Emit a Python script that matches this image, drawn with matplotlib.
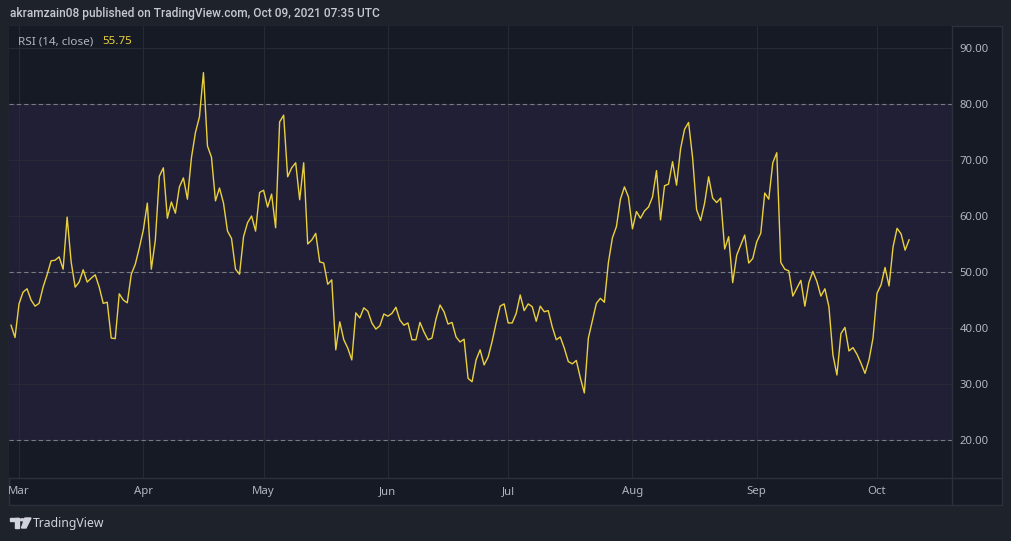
import matplotlib
matplotlib.use("Agg")
import matplotlib.pyplot as plt
import matplotlib.dates as mdates
import pandas as pd
from matplotlib.patches import Rectangle, Polygon, Circle

# daily RSI(14) values, 2021-02-27 .. 2021-10-09
start_date = "2021-02-27"
rsi_values = [
    40.5, 38.3, 44.3, 46.4, 47.0, 45.0, 43.9, 44.4, 47.3, 49.5,
    52.0, 52.1, 52.7, 50.5, 59.8, 51.8, 47.3, 48.2, 50.4, 48.2,
    48.9, 49.5, 47.3, 44.4, 44.6, 38.2, 38.1, 46.1, 45.0, 44.5,
    49.6, 51.4, 54.3, 57.5, 62.3, 50.5, 55.7, 67.1, 68.6, 59.6,
    62.5, 60.5, 65.2, 66.8, 63.0, 70.4, 74.9, 77.7, 85.6, 72.5,
    70.5, 62.7, 65.0, 62.3, 57.3, 56.0, 50.5, 49.6, 56.3, 58.8,
    60.0, 57.3, 64.2, 64.6, 61.6, 63.9, 57.9, 76.8, 78.0, 67.0,
    68.6, 69.5, 62.9, 69.5, 55.0, 55.7, 56.9, 51.8, 51.6, 47.8,
    48.6, 36.1, 41.1, 37.9, 36.4, 34.3, 42.7, 41.8, 43.6, 43.0,
    40.9, 39.8, 40.4, 42.5, 42.1, 42.6, 43.7, 41.4, 40.5, 40.9,
    37.9, 37.9, 41.0, 39.3, 37.9, 38.2, 41.6, 44.1, 42.9, 40.7,
    41.0, 38.4, 37.5, 38.0, 31.0, 30.4, 34.3, 36.1, 33.4, 34.8,
    37.6, 40.9, 43.9, 44.3, 40.9, 40.9, 42.6, 45.9, 43.1, 44.3,
    43.8, 41.2, 43.9, 42.9, 43.1, 40.2, 37.9, 38.4, 36.4, 34.0,
    33.6, 34.2, 31.1, 28.4, 38.2, 41.3, 44.4, 45.3, 44.6, 51.7,
    56.1, 58.1, 63.0, 65.2, 63.4, 57.7, 60.8, 59.6, 60.9, 61.6,
    63.4, 68.1, 59.3, 65.4, 65.7, 69.7, 65.5, 72.0, 75.5, 76.7,
    70.4, 61.1, 59.2, 62.3, 67.0, 63.2, 62.4, 63.2, 54.1, 56.3,
    48.1, 53.0, 54.8, 56.6, 51.6, 52.4, 55.4, 56.9, 64.1, 63.0,
    69.5, 71.3, 51.7, 50.5, 50.2, 45.7, 47.1, 48.5, 43.9, 48.1,
    50.1, 48.3, 45.7, 47.0, 43.8, 35.2, 31.6, 39.0, 40.1, 35.9,
    36.5, 35.3, 33.7, 31.9, 34.3, 38.2, 46.2, 47.7, 50.8, 47.5,
    54.5, 57.8, 56.8, 53.9, 55.75,
]
y_ticks = [20, 30, 40, 50, 60, 70, 80, 90]
band_levels = [20, 50, 80]
header_text = "akramzain08 published on TradingView.com, Oct 09, 2021 07:35 UTC"
indicator_label = "RSI (14, close)"
last_label = "55.75"
brand_text = "TradingView"

W, H = 1012, 541
BG_OUTER = "#1e222b"
PANEL = "#161a24"
BAND = "#211f36"
GRID = "#262a35"
BORDER = "#2c303b"
TEXT = "#b2b5be"
YELLOW = "#ead13c"
FONT = "Noto Sans"


def fx(px):
    return px / W


def fy(py):
    return 1 - py / H


def pt(px, py):
    return (fx(px), fy(py))


dates = pd.date_range(start_date, periods=len(rsi_values), freq="D")
xs = mdates.date2num(dates)

fig = plt.figure(figsize=(W / 100, H / 100), dpi=100, facecolor=BG_OUTER)

# chart panel (plot + price scale + time scale)
fig.patches.append(Rectangle(pt(9, 505), fx(1002) - fx(9), fy(26) - fy(505),
                             transform=fig.transFigure, facecolor=PANEL,
                             edgecolor=BORDER, lw=1.0, zorder=-5))

ax = fig.add_axes([fx(9), fy(478), fx(952) - fx(9), fy(26) - fy(478)])
ax.set_zorder(2)
ax.set_facecolor(PANEL)
for s in ax.spines.values():
    s.set_visible(False)

ax.axhspan(band_levels[0], band_levels[-1], color=BAND, lw=0, zorder=0)
ax.grid(True, color=GRID, lw=0.8, zorder=1)
ax.set_axisbelow(True)
for lv in band_levels:
    ax.axhline(lv, color="#787b86", lw=0.8, dashes=(3.9, 2.7), zorder=2)

ax.plot(xs, rsi_values, color=YELLOW, lw=1.0, zorder=3)

ax.set_xlim(xs[0] - 0.5, xs[0] + 234.7)
ax.set_ylim(13.21, 93.93)
ax.set_yticks(y_ticks)
ax.set_yticklabels(["%.2f" % v for v in y_ticks])
ax.yaxis.tick_right()
ax.xaxis.set_major_locator(mdates.MonthLocator())
ax.xaxis.set_major_formatter(mdates.DateFormatter("%b"))
ax.tick_params(axis="y", length=0, pad=5.5, labelsize=8.2, labelcolor=TEXT)
ax.tick_params(axis="x", length=0, pad=6, labelsize=8.2, labelcolor=TEXT)
for lab in ax.get_xticklabels() + ax.get_yticklabels():
    lab.set_fontfamily(FONT)

# scale separators
fig.add_artist(plt.Line2D([fx(952), fx(952)], [fy(26), fy(505)], color=BORDER, lw=1.0, zorder=3))
fig.add_artist(plt.Line2D([fx(9), fx(1002)], [fy(478), fy(478)], color=BORDER, lw=1.0, zorder=3))

# header and legend
fig.text(fx(10), fy(14), header_text, color="#c8cad1", fontsize=8.6,
         fontweight="medium", family="Roboto", va="center", ha="left")
fig.text(fx(18), fy(42), indicator_label, color=TEXT, fontsize=8.4,
         family=FONT, va="center", ha="left", zorder=5)
fig.text(fx(102), fy(42), last_label, color=YELLOW, fontsize=8.4,
         fontweight="bold", family=FONT, va="center", ha="left", zorder=5)

# footer logo
logo = "#d1d4dc"
fig.patches.append(Rectangle(pt(10, 521), fx(19) - fx(10), fy(518) - fy(521),
                             transform=fig.transFigure, color=logo))
fig.patches.append(Rectangle(pt(15, 528), fx(19) - fx(15), fy(518) - fy(528),
                             transform=fig.transFigure, color=logo))
fig.patches.append(Circle(pt(22.3, 519.8), 1.9 / W, transform=fig.transFigure, color=logo))
fig.patches.append(Polygon([pt(25, 518), pt(31, 518), pt(26, 528), pt(21.5, 528)],
                           closed=True, transform=fig.transFigure, color=logo))
fig.text(fx(33), fy(523), brand_text, color=logo, fontsize=8.8, family=FONT,
         va="center", ha="left")

fig.savefig("out.png", dpi=100, facecolor=BG_OUTER)
